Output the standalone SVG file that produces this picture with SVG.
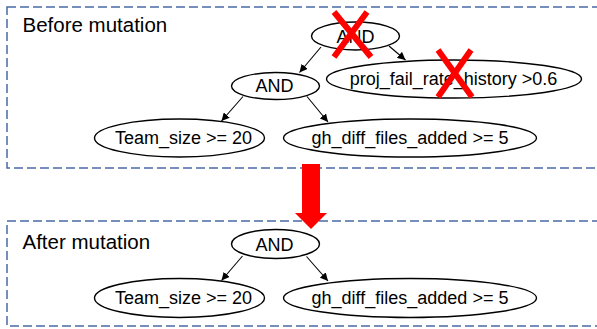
<svg xmlns="http://www.w3.org/2000/svg" width="597" height="329" viewBox="0 0 597 329">
  <style>
    .frame { fill: none; stroke: #4a69a6; stroke-width: 1.5; stroke-dasharray: 9 4; }
    .node ellipse { fill: #ffffff; stroke: #000000; stroke-width: 1.4; }
    .label { font-family: "Liberation Sans", Arial, sans-serif; font-size: 18px; fill: #000000; text-anchor: middle; }
    .title { font-family: "Liberation Sans", Arial, sans-serif; font-size: 20.5px; fill: #000000; }
    .edge { stroke: #000000; stroke-width: 1.1; fill: none; marker-end: url(#head); }
    .cross { stroke: #ff0000; stroke-width: 6; stroke-linecap: butt; }
  </style>
  <defs>
    <marker id="head" viewBox="0 0 10 10" refX="10" refY="5" markerWidth="8" markerHeight="8" markerUnits="userSpaceOnUse" orient="auto">
      <path d="M0,0 L10,5 L0,10 z" fill="#000000"/>
    </marker>
  </defs>

  <rect width="597" height="329" fill="#ffffff"/>

  <!-- section frames -->
  <rect class="frame" x="7" y="7" width="610" height="161"/>
  <rect class="frame" x="7" y="221" width="610" height="105"/>
  <text class="title" x="22.5" y="32">Before mutation</text>
  <text class="title" x="22.5" y="248.5">After mutation</text>

  <!-- connectors -->
  <g id="connectors">
    <line class="edge" x1="321" y1="47" x2="299.5" y2="72.5"/>
    <line class="edge" x1="389" y1="46" x2="405.5" y2="60"/>
    <line class="edge" x1="243" y1="96.5" x2="221.5" y2="121"/>
    <line class="edge" x1="307" y1="96.5" x2="328" y2="122"/>
    <line class="edge" x1="242.5" y1="256" x2="221.5" y2="280.5"/>
    <line class="edge" x1="306.5" y1="256.5" x2="328" y2="281"/>
  </g>

  <!-- tree before mutation -->
  <g id="root-and" class="node">
    <ellipse cx="355.5" cy="36" rx="44" ry="14"/>
    <text class="label" x="355.5" y="42.5">AND</text>
  </g>
  <g id="proj-fail-rate" class="node">
    <ellipse cx="454" cy="79" rx="127.5" ry="19"/>
    <text class="label" x="453.5" y="85">proj_fail_rate_history &gt;0.6</text>
  </g>
  <g id="inner-and" class="node">
    <ellipse cx="275.5" cy="86" rx="44" ry="13.5"/>
    <text class="label" x="274.5" y="92">AND</text>
  </g>
  <g id="team-size" class="node">
    <ellipse cx="179.5" cy="138" rx="85" ry="19"/>
    <text class="label" x="183.5" y="144">Team_size &gt;= 20</text>
  </g>
  <g id="gh-diff" class="node">
    <ellipse cx="410" cy="138" rx="126.5" ry="19"/>
    <text class="label" x="410" y="144">gh_diff_files_added &gt;= 5</text>
  </g>

  <!-- removed parts -->
  <g id="removed-marks">
    <line class="cross" x1="334" y1="12" x2="371" y2="57"/>
    <line class="cross" x1="367" y1="12" x2="334" y2="57"/>
    <line class="cross" x1="438" y1="50" x2="472" y2="97"/>
    <line class="cross" x1="471" y1="50" x2="438" y2="97"/>
  </g>

  <!-- mutation arrow -->
  <polygon id="mutation-arrow" points="302,164 320,164 320,213 327,213 311,229 295,213 302,213" fill="#ff0000"/>

  <!-- tree after mutation -->
  <g id="after-and" class="node">
    <ellipse cx="275.5" cy="244" rx="44" ry="14.5"/>
    <text class="label" x="274.5" y="251">AND</text>
  </g>
  <g id="after-team-size" class="node">
    <ellipse cx="179.5" cy="298" rx="85" ry="19.5"/>
    <text class="label" x="183.5" y="304">Team_size &gt;= 20</text>
  </g>
  <g id="after-gh-diff" class="node">
    <ellipse cx="410" cy="298" rx="126.5" ry="19.5"/>
    <text class="label" x="410" y="304">gh_diff_files_added &gt;= 5</text>
  </g>
</svg>
